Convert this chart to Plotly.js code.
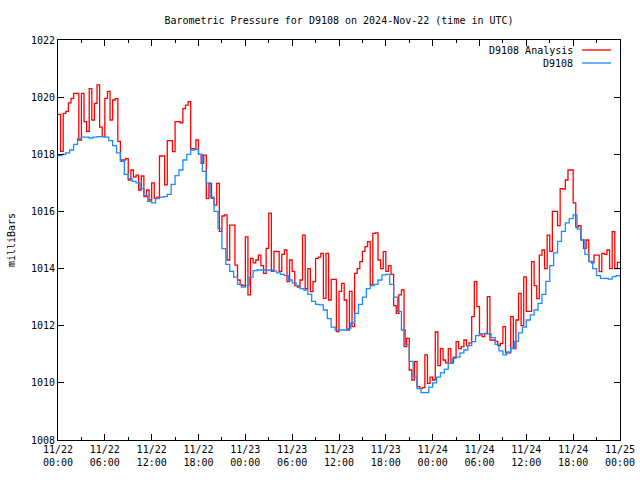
<!DOCTYPE html>
<html>
<head>
<meta charset="utf-8">
<script src="https://cdn.plot.ly/plotly-3.0.1.min.js"></script>
<style>html,body{margin:0;padding:0;background:#fff;}#chart{width:640px;height:480px;}</style>
</head>
<body>
<div id="chart"></div>
<script>
// ---- data ----
var startTime = "2024-11-22T00:00:00Z";
var blueStepMinutes = 30;   // D9108 sampled every 30 minutes
var redStepMinutes = 20;    // D9108 Analysis sampled every 20 minutes

var d9108 = [
 1017.95,1018.0,1018.05,1018.15,1018.35,1018.55,1018.6,1018.6,1018.57,1018.6,
 1018.62,1018.62,1018.6,1018.48,1018.3,1018.05,1017.75,1017.3,1017.15,1017.05,
 1017.0,1016.8,1016.55,1016.35,1016.3,1016.45,1016.5,1016.52,1016.6,1016.95,
 1017.25,1017.45,1017.8,1018.0,1018.15,1018.17,1018.0,1017.4,1017.0,1016.5,
 1016.0,1015.4,1014.7,1014.15,1013.9,1013.7,1013.45,1013.35,1013.4,1013.7,
 1013.93,1013.95,1013.95,1013.95,1013.95,1013.92,1013.85,1013.8,1013.75,1013.6,
 1013.5,1013.4,1013.3,1013.25,1013.1,1012.85,1012.75,1012.73,1012.55,1012.25,
 1011.95,1011.85,1011.85,1011.85,1011.9,1012.1,1012.43,1012.75,1013.0,1013.3,
 1013.4,1013.45,1013.6,1013.78,1013.8,1013.45,1013.0,1012.5,1011.85,1011.33,
 1010.75,1010.2,1009.8,1009.66,1009.66,1009.85,1010.0,1010.2,1010.35,1010.48,
 1010.68,1010.86,1010.9,1011.05,1011.15,1011.3,1011.44,1011.65,1011.72,1011.72,
 1011.71,1011.58,1011.35,1011.12,1010.98,1011.08,1011.22,1011.45,1011.75,1011.95,
 1012.2,1012.38,1012.55,1012.78,1013.1,1013.55,1014.1,1014.55,1014.95,1015.3,
 1015.6,1015.75,1015.88,1015.38,1015.0,1014.5,1014.25,1014.0,1013.75,1013.66,
 1013.66,1013.63,1013.72,1013.75,1013.7
];

var d9108Analysis = [
 1019.4,1018.1,1019.43,1019.5,1019.8,1019.96,1020.13,1020.13,1018.5,1020.13,
 1019.14,1018.8,1020.3,1019.2,1019.78,1020.43,1018.95,1018.62,1019.96,1020.2,
 1019.2,1019.9,1019.95,1018.45,1017.8,1017.8,1017.85,1017.1,1017.45,1017.2,
 1017.27,1016.75,1017.24,1016.52,1016.75,1016.4,1017.0,1016.46,1016.5,1017.94,
 1017.94,1016.93,1018.48,1018.48,1018.09,1019.14,1019.14,1019.1,1019.6,1019.72,
 1019.84,1018.2,1018.2,1018.5,1018.0,1017.68,1017.97,1016.46,1016.98,1016.46,
 1016.22,1016.98,1015.3,1015.84,1015.88,1014.3,1015.52,1015.52,1014.12,1013.6,
 1013.43,1013.4,1015.11,1013.08,1014.36,1014.2,1014.3,1014.47,1014.1,1013.83,
 1014.71,1015.94,1013.9,1014.6,1014.59,1013.9,1014.5,1014.65,1013.54,1014.3,
 1013.9,1013.4,1013.35,1013.6,1015.17,1013.3,1014.0,1013.19,1013.54,1014.36,
 1014.4,1014.53,1012.96,1014.53,1012.9,1013.62,1013.62,1011.79,1013.2,1013.48,
 1012.9,1011.85,1013.2,1011.97,1013.83,1014.0,1014.24,1014.6,1014.77,1014.94,
 1013.43,1015.23,1015.25,1014.3,1014.0,1014.59,1013.9,1014.1,1013.8,1012.7,
 1012.43,1013.08,1013.25,1011.27,1011.56,1010.45,1010.1,1010.74,1009.87,1009.81,
 1009.83,1010.98,1009.98,1010.2,1010.1,1011.78,1010.6,1011.2,1010.8,1010.7,
 1011.2,1010.7,1010.9,1011.44,1011.2,1011.27,1011.5,1011.3,1011.4,1012.32,
 1013.54,1012.67,1011.68,1011.62,1011.73,1013.02,1011.5,1011.5,1011.45,1011.3,
 1011.38,1011.97,1011.05,1011.05,1012.32,1011.2,1012.2,1013.13,1012.0,1013.71,
 1012.5,1012.5,1014.24,1013.4,1012.95,1014.47,1014.65,1014.0,1015.17,1014.6,
 1016.0,1016.0,1015.5,1016.8,1016.78,1017.1,1017.45,1017.45,1016.3,1015.45,
 1015.5,1015.0,1014.71,1015.0,1014.24,1014.2,1014.47,1014.47,1013.89,1014.53,
 1014.5,1014.65,1014.0,1015.29,1014.0,1014.22,1014.22
];

var xTickVals = ["2024-11-22 00:00","2024-11-22 06:00","2024-11-22 12:00","2024-11-22 18:00",
 "2024-11-23 00:00","2024-11-23 06:00","2024-11-23 12:00","2024-11-23 18:00",
 "2024-11-24 00:00","2024-11-24 06:00","2024-11-24 12:00","2024-11-24 18:00","2024-11-25 00:00"];
var xTickText = ["11/22<br>00:00","11/22<br>06:00","11/22<br>12:00","11/22<br>18:00",
 "11/23<br>00:00","11/23<br>06:00","11/23<br>12:00","11/23<br>18:00",
 "11/24<br>00:00","11/24<br>06:00","11/24<br>12:00","11/24<br>18:00","11/25<br>00:00"];
var yTickVals = [1008,1010,1012,1014,1016,1018,1020,1022];

// ---- build time axis ----
function pad(n){return (n<10?"0":"")+n;}
function timesFor(n, stepMin){
  var t0 = Date.parse(startTime), out = [];
  for (var i=0;i<n;i++){
    var d = new Date(t0 + i*stepMin*60000);
    out.push(d.getUTCFullYear()+"-"+pad(d.getUTCMonth()+1)+"-"+pad(d.getUTCDate())+" "+pad(d.getUTCHours())+":"+pad(d.getUTCMinutes()));
  }
  return out;
}

var mono = "DejaVu Sans Mono, Liberation Mono, monospace";
var redColor = "#ff0000", blueColor = "#1a8cff";

var traces = [
  {x: timesFor(d9108Analysis.length, redStepMinutes), y: d9108Analysis, type:"scatter", mode:"lines",
   name:"D9108 Analysis", line:{color:redColor, width:1.3, shape:"hv"}},
  {x: timesFor(d9108.length, blueStepMinutes), y: d9108, type:"scatter", mode:"lines",
   name:"D9108", line:{color:blueColor, width:1.3, shape:"hv"}}
];

var layout = {
  width:640, height:480,
  margin:{l:58, r:20, t:40, b:40, pad:0},
  paper_bgcolor:"#fff", plot_bgcolor:"#fff",
  showlegend:false,
  font:{family:mono, size:10, color:"#000"},
  title:{text:"Barometric Pressure for D9108 on 2024-Nov-22 (time in UTC)",
         font:{family:mono, size:10, color:"#000"}, x:0.5, xref:"paper", y:1-20/480, yref:"container", yanchor:"middle"},
  xaxis:{type:"date", range:["2024-11-22 00:00","2024-11-25 00:00"],
         tickmode:"array", tickvals:xTickVals, ticktext:xTickText,
         ticks:"inside", ticklen:6, tickcolor:"#000", tickwidth:1,
         minor:{dtick:3*3600000, ticks:"inside", ticklen:3, tickcolor:"#000", tickwidth:1, showgrid:false},
         showline:true, linecolor:"#000", linewidth:1, mirror:"allticks",
         showgrid:false, zeroline:false, tickfont:{family:mono, size:10, color:"#000"}},
  yaxis:{range:[1008,1022], tickmode:"array", tickvals:yTickVals,
         ticks:"inside", ticklen:6, tickcolor:"#000", tickwidth:1,
         showline:true, linecolor:"#000", linewidth:1, mirror:"allticks",
         showgrid:false, zeroline:false, tickfont:{family:mono, size:10, color:"#000"},
         title:{text:"milliBars", font:{family:mono, size:10, color:"#000"}, standoff:13}},
  annotations:[
    {xref:"paper", yref:"paper", x:(575-58)/562, y:(440-50)/400, text:"D9108 Analysis", showarrow:false,
     xanchor:"right", yanchor:"middle", font:{family:mono, size:10, color:"#000"}},
    {xref:"paper", yref:"paper", x:(575-58)/562, y:(440-63)/400, text:"D9108", showarrow:false,
     xanchor:"right", yanchor:"middle", font:{family:mono, size:10, color:"#000"}}
  ],
  shapes:[
    {type:"line", xref:"paper", yref:"paper", x0:(582-58)/562, x1:(611-58)/562, y0:(440-50)/400, y1:(440-50)/400,
     line:{color:redColor, width:1.3}},
    {type:"line", xref:"paper", yref:"paper", x0:(582-58)/562, x1:(611-58)/562, y0:(440-63)/400, y1:(440-63)/400,
     line:{color:blueColor, width:1.3}}
  ]
};

Plotly.newPlot("chart", traces, layout, {staticPlot:true, displayModeBar:false});
</script>
</body>
</html>
